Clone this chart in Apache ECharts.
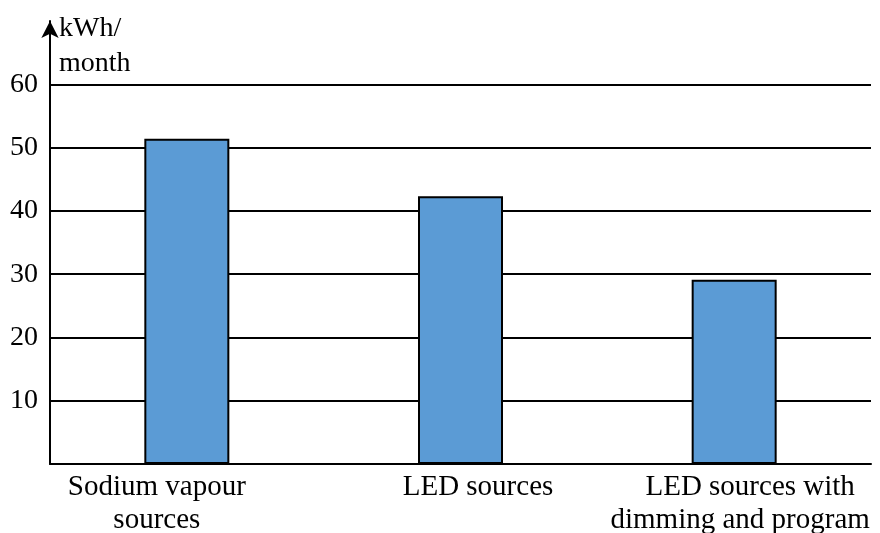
<!DOCTYPE html>
<html>
<head>
<meta charset="utf-8">
<script src="https://cdn.jsdelivr.net/npm/echarts@6/dist/echarts.min.js"></script>
<style>
  html, body { margin: 0; padding: 0; background: #fff; }
  #chart { width: 880px; height: 533px; }
</style>
</head>
<body>
<div id="chart"></div>
<script>
// Monthly energy use per lighting option
const categories = ['Sodium vapour\nsources', 'LED sources', 'LED sources with\ndimming and program'];
const consumption = [51.4, 42.3, 29.1];
const yTicks = [0, 10, 20, 30, 40, 50, 60];
const unitLabel = 'kWh/\nmonth';

const FONT = '"Liberation Serif", "Times New Roman", serif';

// per-line horizontal nudges for the category captions (left/right padding)
const captionPad = [
  [[0, 60, 0, 0], [0, 60, 0, 0]],
  [[0, 0, 0, 35]],
  [[0, 0, 0, 32], [0, 0, 0, 12]]
];
const rich = {};
captionPad.forEach(function (lines, ci) {
  lines.forEach(function (pad, li) {
    rich['c' + ci + '_' + li] = {
      fontFamily: FONT, fontSize: 29, color: '#000', lineHeight: 33, padding: pad
    };
  });
});

const chart = echarts.init(document.getElementById('chart'), null, { renderer: 'canvas' });
chart.setOption({
  animation: false,
  backgroundColor: '#fff',
  grid: { left: 50, right: 9, top: 21, bottom: 69, containLabel: false, outerBoundsMode: 'none' },
  xAxis: {
    type: 'category',
    data: categories,
    axisLine: { show: true, lineStyle: { color: '#000', width: 2 } },
    axisTick: { show: false },
    axisLabel: {
      interval: 0,
      margin: 7,
      formatter: function (value, idx) {
        return value.split('\n').map(function (l, li) {
          return '{c' + idx + '_' + li + '|' + l + '}';
        }).join('\n');
      },
      rich: rich
    }
  },
  yAxis: {
    type: 'value',
    min: yTicks[0],
    max: 70,
    interval: 10,
    name: unitLabel,
    nameLocation: 'end',
    nameGap: 10,
    nameMoveOverlap: false,
    nameTextStyle: {
      fontFamily: FONT, fontSize: 28, color: '#000', lineHeight: 35,
      align: 'left', verticalAlign: 'top', padding: [0, 0, 0, 9]
    },
    axisLine: {
      show: true,
      symbol: ['none', 'arrow'],
      symbolSize: [13, 17],
      lineStyle: { color: '#000', width: 2 }
    },
    axisTick: { show: false },
    axisLabel: {
      margin: 12,
      fontFamily: FONT, fontSize: 28, color: '#000',
      showMaxLabel: false,
      formatter: function (v) { return yTicks.indexOf(v) >= 1 ? String(v) : ''; }
    },
    splitLine: {
      show: true,
      showMaxLine: false,
      lineStyle: { color: '#000', width: 1.8 }
    }
  },
  series: [{
    type: 'bar',
    data: consumption,
    barWidth: 85,
    itemStyle: { color: '#5B9BD5', borderColor: '#000', borderWidth: 2 }
  }]
});
</script>
</body>
</html>
